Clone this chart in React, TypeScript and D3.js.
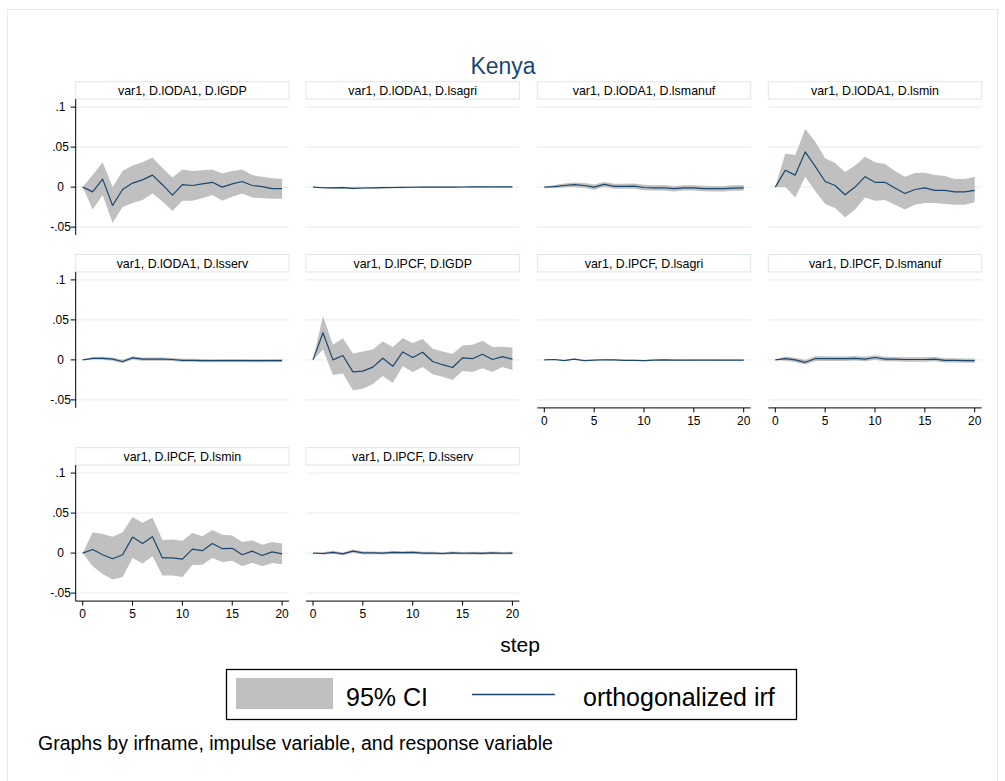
import React from "react";
import * as d3 from "d3";

// Forecast horizon (steps) and axis ticks
const steps = [0, 1, 2, 3, 4, 5, 6, 7, 8, 9, 10, 11, 12, 13, 14, 15, 16, 17, 18, 19, 20];
const xTicks = [0, 5, 10, 15, 20];
const yTicks = [-0.05, 0, 0.05, 0.1];
const yTickLabels = ["-.05", "0", ".05", ".1"];

const panelTitles = [
  "var1, D.lODA1, D.lGDP",
  "var1, D.lODA1, D.lsagri",
  "var1, D.lODA1, D.lsmanuf",
  "var1, D.lODA1, D.lsmin",
  "var1, D.lODA1, D.lsserv",
  "var1, D.lPCF, D.lGDP",
  "var1, D.lPCF, D.lsagri",
  "var1, D.lPCF, D.lsmanuf",
  "var1, D.lPCF, D.lsmin",
  "var1, D.lPCF, D.lsserv",
];

// Orthogonalized IRF and 95% CI bounds, one set per impulse/response pair
const odaGdpIrf = [0, -0.006, 0.010, -0.023, -0.003, 0.005, 0.009, 0.015, 0.003, -0.010, 0.003, 0.002, 0.004, 0.006, 0.000, 0.004, 0.007, 0.002, 0.0005, -0.002, -0.002];
const odaGdpHi = [0, 0.015, 0.031, 0.000, 0.020, 0.027, 0.031, 0.037, 0.024, 0.012, 0.022, 0.020, 0.021, 0.022, 0.017, 0.020, 0.022, 0.015, 0.013, 0.011, 0.010];
const odaGdpLo = [0, -0.028, -0.010, -0.045, -0.025, -0.020, -0.016, -0.008, -0.018, -0.030, -0.017, -0.017, -0.014, -0.010, -0.017, -0.012, -0.008, -0.013, -0.014, -0.0145, -0.0145];

const odaAgriIrf = [0, -0.0008, -0.001, -0.0006, -0.0015, -0.0011, -0.0009, -0.0007, -0.0005, -0.0004, -0.0002, -0.0001, 0.0001, 0.0, 0.0, 0.0001, 0.0002, 0.0002, 0.0003, 0.0002, 0.0002];
const odaAgriHi = [0, 0.0002, 0.0001, 0.0005, -0.0004, -0.0001, 0.0001, 0.0003, 0.0004, 0.0005, 0.0006, 0.0007, 0.0008, 0.0007, 0.0007, 0.0008, 0.0008, 0.0009, 0.0009, 0.0008, 0.0008];
const odaAgriLo = [0, -0.0018, -0.0021, -0.0017, -0.0026, -0.0021, -0.0019, -0.0017, -0.0014, -0.0013, -0.001, -0.0009, -0.0006, -0.0007, -0.0007, -0.0006, -0.0004, -0.0005, -0.0003, -0.0004, -0.0004];

const odaManufIrf = [0, 0.0005, 0.002, 0.003, 0.002, 0.0, 0.0035, 0.001, 0.001, 0.0012, -0.0005, -0.001, -0.0008, -0.002, -0.001, -0.001, -0.0018, -0.002, -0.002, -0.0012, -0.001];
const odaManufHi = [0, 0.0025, 0.0045, 0.0058, 0.005, 0.0032, 0.0065, 0.0042, 0.0042, 0.0045, 0.0028, 0.0024, 0.0026, 0.0014, 0.0024, 0.0024, 0.0016, 0.0015, 0.0015, 0.0022, 0.0025];
const odaManufLo = [0, -0.0015, -0.0005, 0.0002, -0.001, -0.0032, 0.0005, -0.0022, -0.0022, -0.002, -0.0038, -0.0044, -0.0042, -0.0054, -0.0044, -0.0044, -0.0052, -0.0055, -0.0055, -0.0046, -0.0045];

const odaMinIrf = [0, 0.021, 0.015, 0.044, 0.026, 0.007, 0.002, -0.0095, 0.0, 0.013, 0.006, 0.006, -0.001, -0.008, -0.003, -0.001, -0.004, -0.004, -0.006, -0.006, -0.004];
const odaMinHi = [0, 0.042, 0.040, 0.0725, 0.057, 0.036, 0.030, 0.019, 0.027, 0.038, 0.031, 0.029, 0.020, 0.013, 0.0175, 0.018, 0.015, 0.014, 0.010, 0.010, 0.013];
const odaMinLo = [0, 0.0, -0.013, 0.013, -0.005, -0.021, -0.026, -0.038, -0.028, -0.013, -0.017, -0.016, -0.022, -0.028, -0.022, -0.020, -0.020, -0.021, -0.022, -0.022, -0.019];

const odaServIrf = [0, 0.002, 0.002, 0.001, -0.002, 0.0025, 0.001, 0.001, 0.001, 0.0005, -0.0005, -0.0005, -0.001, -0.001, -0.0008, -0.0008, -0.0008, -0.001, -0.001, -0.0008, -0.0008];
const odaServHi = [0, 0.0035, 0.0038, 0.003, 0.0002, 0.0045, 0.003, 0.003, 0.003, 0.0025, 0.0015, 0.0014, 0.001, 0.0009, 0.0011, 0.001, 0.001, 0.0009, 0.0009, 0.001, 0.001];
const odaServLo = [0, 0.0005, 0.0002, -0.001, -0.0042, 0.0005, -0.001, -0.001, -0.001, -0.0015, -0.0025, -0.0024, -0.003, -0.0029, -0.0027, -0.0026, -0.0026, -0.0029, -0.0029, -0.0026, -0.0026];

const pcfGdpIrf = [0, 0.034, 0.0, 0.0055, -0.015, -0.014, -0.009, 0.002, -0.008, 0.010, 0.003, 0.0095, -0.002, -0.006, -0.0095, 0.0025, 0.0015, 0.007, 0.0005, 0.004, 0.001];
const pcfGdpHi = [0, 0.055, 0.019, 0.027, 0.008, 0.0105, 0.013, 0.023, 0.016, 0.027, 0.021, 0.026, 0.014, 0.0105, 0.0075, 0.018, 0.019, 0.024, 0.016, 0.0165, 0.0155];
const pcfGdpLo = [0, 0.013, -0.019, -0.017, -0.038, -0.036, -0.030, -0.020, -0.029, -0.008, -0.015, -0.009, -0.018, -0.021, -0.025, -0.014, -0.015, -0.0105, -0.015, -0.009, -0.0125];

const pcfAgriIrf = [0, 0.0005, -0.0008, 0.001, -0.001, -0.0003, 0.0002, 0.0, -0.0005, -0.0005, -0.001, -0.0002, 0.0, -0.0002, -0.0004, -0.0002, -0.0002, -0.0002, -0.0004, -0.0003, -0.0003];
const pcfAgriHi = [0, 0.001, -0.0002, 0.0016, -0.0004, 0.0003, 0.0008, 0.0006, 0.0001, 0.0001, -0.0004, 0.0004, 0.0006, 0.0004, 0.0002, 0.0004, 0.0004, 0.0004, 0.0002, 0.0003, 0.0003];
const pcfAgriLo = [0, 0.0, -0.0014, 0.0004, -0.0016, -0.0009, -0.0004, -0.0006, -0.0011, -0.0011, -0.0016, -0.0008, -0.0006, -0.0008, -0.001, -0.0008, -0.0008, -0.0008, -0.001, -0.0009, -0.0009];

const pcfManufIrf = [0, 0.0015, 0.0, -0.003, 0.0015, 0.0015, 0.0015, 0.0015, 0.002, 0.001, 0.003, 0.001, 0.001, 0.0005, 0.0005, 0.0005, 0.001, -0.0005, -0.0005, -0.001, -0.001];
const pcfManufHi = [0, 0.0042, 0.0028, -0.0002, 0.0045, 0.0045, 0.0044, 0.0044, 0.0048, 0.0038, 0.0058, 0.0038, 0.0037, 0.0032, 0.0032, 0.0032, 0.0037, 0.0022, 0.0022, 0.0017, 0.0017];
const pcfManufLo = [0, -0.0012, -0.0028, -0.0058, -0.0015, -0.0015, -0.0014, -0.0014, -0.0008, -0.0018, 0.0002, -0.0018, -0.0017, -0.0022, -0.0022, -0.0022, -0.0017, -0.0032, -0.0032, -0.0037, -0.0037];

const pcfMinIrf = [0, 0.0045, -0.002, -0.007, -0.002, 0.020, 0.012, 0.0205, -0.006, -0.006, -0.0075, 0.005, 0.003, 0.012, 0.0055, 0.006, -0.002, 0.0025, -0.003, 0.0015, -0.001];
const pcfMinHi = [0, 0.026, 0.024, 0.0205, 0.026, 0.045, 0.038, 0.0445, 0.0165, 0.017, 0.0155, 0.025, 0.021, 0.029, 0.023, 0.022, 0.014, 0.016, 0.0105, 0.014, 0.012];
const pcfMinLo = [0, -0.0165, -0.026, -0.033, -0.030, -0.006, -0.013, -0.004, -0.028, -0.028, -0.030, -0.015, -0.0145, -0.006, -0.011, -0.0095, -0.0165, -0.012, -0.0165, -0.0125, -0.014];

const pcfServIrf = [0, -0.0005, 0.001, -0.001, 0.0025, 0.0003, 0.0003, 0.0, 0.0008, 0.0005, 0.001, 0.0, 0.0, -0.0005, 0.0003, -0.0002, 0.0, -0.0003, 0.0002, -0.0002, 0.0];
const pcfServHi = [0, 0.0012, 0.0028, 0.0008, 0.0045, 0.0022, 0.0021, 0.0018, 0.0026, 0.0023, 0.0028, 0.0017, 0.0017, 0.0012, 0.002, 0.0015, 0.0017, 0.0014, 0.0019, 0.0015, 0.0017];
const pcfServLo = [0, -0.0022, -0.0008, -0.0028, 0.0005, -0.0016, -0.0015, -0.0018, -0.001, -0.0013, -0.0008, -0.0017, -0.0017, -0.0022, -0.0014, -0.0019, -0.0017, -0.002, -0.0015, -0.0019, -0.0017];

const irfSeries = [odaGdpIrf, odaAgriIrf, odaManufIrf, odaMinIrf, odaServIrf, pcfGdpIrf, pcfAgriIrf, pcfManufIrf, pcfMinIrf, pcfServIrf];
const hiSeries = [odaGdpHi, odaAgriHi, odaManufHi, odaMinHi, odaServHi, pcfGdpHi, pcfAgriHi, pcfManufHi, pcfMinHi, pcfServHi];
const loSeries = [odaGdpLo, odaAgriLo, odaManufLo, odaMinLo, odaServLo, pcfGdpLo, pcfAgriLo, pcfManufLo, pcfMinLo, pcfServLo];

// Layout
const W = 1005;
const H = 781;
const colLeft = [75.7, 306, 537.3, 768.3];
const rowTop = [81.7, 254.5, 447.7];
const panelW = 213.4;
const stripH = 17.4;
const plotH = 136;
const xPad = 7;

const FONT = "'Liberation Sans', Arial, Helvetica, sans-serif";
const NAVY = "#1a476f";
const BAND = "#c0c0c0";
const GRID = "#e4ecee";
const STRIP_STROKE = "#dde7ea";

type Datum = { s: number; irf: number; lo: number; hi: number };

function Panel({ index }: { index: number }) {
  const row = Math.floor(index / 4);
  const col = index % 4;
  const left = colLeft[col];
  const top = rowTop[row];
  const plotTop = top + stripH;
  const plotBottom = plotTop + plotH;

  const x = d3.scaleLinear().domain([0, 20]).range([left + xPad, left + panelW - xPad]);
  const y = d3.scaleLinear().domain([-0.06, 0.11]).range([plotBottom, plotTop]);

  const data: Datum[] = steps.map((s, i) => ({
    s,
    irf: irfSeries[index][i],
    lo: loSeries[index][i],
    hi: hiSeries[index][i],
  }));

  const area = d3
    .area<Datum>()
    .x((d) => x(d.s))
    .y0((d) => y(d.lo))
    .y1((d) => y(d.hi));
  const line = d3
    .line<Datum>()
    .x((d) => x(d.s))
    .y((d) => y(d.irf));

  const showY = col === 0;
  const showX = index >= 6;

  return (
    <g>
      {/* panel strip */}
      <rect x={left} y={top} width={panelW} height={stripH} fill="#ffffff" stroke={STRIP_STROKE} strokeWidth={1} />
      <text x={left + panelW / 2} y={top + 13.2} textAnchor="middle" fontSize={12.4} fontFamily={FONT} fill="#000">
        {panelTitles[index]}
      </text>

      {/* gridlines */}
      {yTicks.map((t) => (
        <line key={t} x1={left} x2={left + panelW} y1={y(t)} y2={y(t)} stroke={GRID} strokeWidth={1} />
      ))}

      {/* confidence band and response */}
      <path d={area(data) || ""} fill={BAND} stroke="none" />
      <path d={line(data) || ""} fill="none" stroke={NAVY} strokeWidth={1.2} strokeLinejoin="round" />

      {showY && (
        <g>
          <line x1={left} x2={left} y1={plotTop} y2={plotBottom} stroke="#000" strokeWidth={1} />
          {yTicks.map((t, i) => (
            <g key={t}>
              <line x1={left - 5} x2={left} y1={y(t)} y2={y(t)} stroke="#000" strokeWidth={1} />
              <text x={60.5} y={y(t) + 4.3} textAnchor="middle" fontSize={12} fontFamily={FONT} fill="#000">
                {yTickLabels[i]}
              </text>
            </g>
          ))}
        </g>
      )}

      {showX && (
        <g>
          <line x1={left} x2={left + panelW} y1={plotBottom} y2={plotBottom} stroke="#000" strokeWidth={1} />
          {xTicks.map((t) => (
            <g key={t}>
              <line x1={x(t)} x2={x(t)} y1={plotBottom} y2={plotBottom + 4.5} stroke="#000" strokeWidth={1} />
              <text x={x(t)} y={plotBottom + 17} textAnchor="middle" fontSize={12} fontFamily={FONT} fill="#000">
                {t}
              </text>
            </g>
          ))}
        </g>
      )}
    </g>
  );
}

export default function App() {
  return (
    <svg
      width={W}
      height={H}
      viewBox={`0 0 ${W} ${H}`}
      style={{ position: "absolute", left: 0, top: 0, background: "#ffffff" }}
    >
      <rect x={0} y={0} width={W} height={H} fill="#ffffff" />
      <rect x={7.5} y={9.5} width={990} height={790} fill="none" stroke="#e3ecee" strokeWidth={1} />

      <text x={503} y={74} textAnchor="middle" fontSize={23} fontFamily={FONT} fill={NAVY}>
        Kenya
      </text>

      {panelTitles.map((_, i) => (
        <Panel key={i} index={i} />
      ))}

      <text x={520} y={652} textAnchor="middle" fontSize={21} fontFamily={FONT} fill="#000">
        step
      </text>

      {/* legend */}
      <g>
        <rect x={226.5} y={669.5} width={570} height={50} fill="#ffffff" stroke="#000" strokeWidth={1.3} />
        <rect x={236} y={678} width={97} height={31} fill={BAND} />
        <text x={346} y={706} fontSize={25} fontFamily={FONT} fill="#000">
          95% CI
        </text>
        <line x1={472} x2={555} y1={694.5} y2={694.5} stroke={NAVY} strokeWidth={1.5} />
        <text x={583} y={706} fontSize={25} fontFamily={FONT} fill="#000">
          orthogonalized irf
        </text>
      </g>

      <text x={38} y={750} fontSize={19.5} fontFamily={FONT} fill="#000">
        Graphs by irfname, impulse variable, and response variable
      </text>
    </svg>
  );
}
